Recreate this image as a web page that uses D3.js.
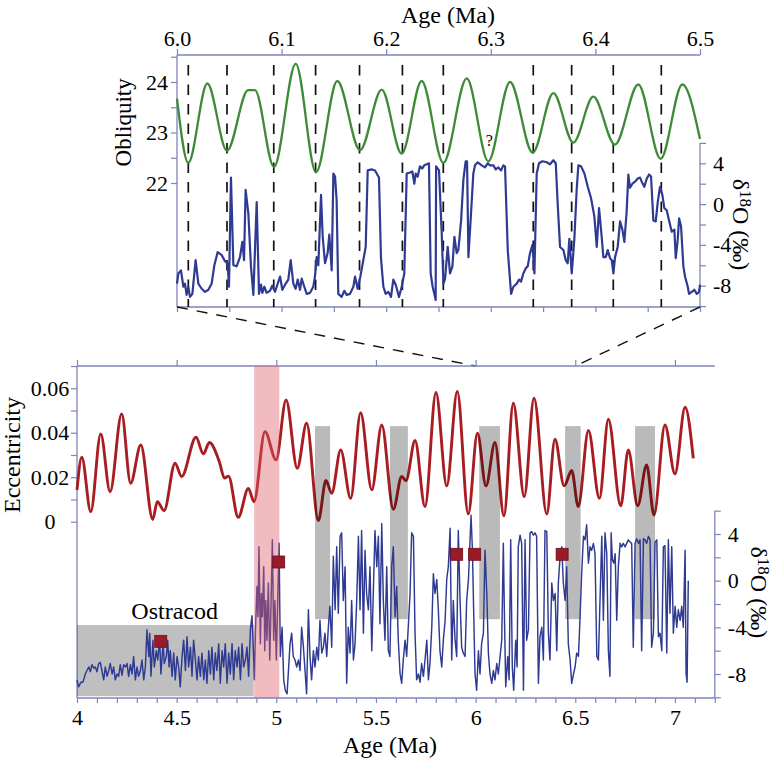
<!DOCTYPE html>
<html><head><meta charset="utf-8">
<script src="https://cdn.jsdelivr.net/npm/d3@7"></script>
<style>
body{margin:0;background:#fff;}
svg{display:block;font-family:"Liberation Serif","Times New Roman",serif;}
</style></head><body>
<svg id="c" width="783" height="760"></svg>
<script>
// ---------------- DATA ----------------
const topAgeTicks = [6.0, 6.1, 6.2, 6.3, 6.4, 6.5];
const oblTicks = [22, 22.5, 23, 23.5, 24, 24.5];
const oblLabels = [22, 23, 24];
const d18oTicks = [-10, -8, -6, -4, -2, 0, 2, 4, 6];
const d18oLabels = [4, 0, -4, -8];
const eccTicks = [0, 0.01, 0.02, 0.03, 0.04, 0.05, 0.06, 0.07];
const eccLabels = [0, 0.02, 0.04, 0.06];
const botAgeLabels = [4, 4.5, 5, 5.5, 6, 6.5, 7];

// obliquity (degrees), 6.0-6.5 Ma
const obliquity = [[6.000,23.67],[6.0108,22.40],[6.029,23.97],[6.0478,22.64],[6.068,23.84],[6.0745,23.84],[6.0927,22.32],[6.1135,24.36],[6.1329,22.21],[6.1532,24.02],[6.175,22.65],[6.1957,23.85],[6.2148,22.58],[6.2339,24.02],[6.2546,22.40],[6.277,24.07],[6.2976,22.43],[6.3184,24.00],[6.340,22.60],[6.3598,23.78],[6.3789,22.80],[6.398,23.71],[6.4187,22.76],[6.441,23.95],[6.4624,22.48],[6.4831,23.95],[6.500,22.87]];

// obliquity minima marked by dashed lines
const dashAges = [6.0108, 6.0478, 6.0925, 6.1325, 6.1745, 6.2155, 6.2546, 6.3406, 6.3773, 6.4171, 6.4630];

// δ18O detail 6.0-6.5 Ma
const d18oDetail = [[6.000,-7.8],[6.0013,-6.8],[6.0038,-6.5],[6.0061,-8.1],[6.0076,-7.8],[6.0092,-8.9],[6.0108,-8.1],[6.0124,-9.1],[6.0147,-8.8],[6.0178,-5.5],[6.0204,-7.8],[6.0236,-8.3],[6.0268,-8.6],[6.0300,-8.4],[6.0331,-7.8],[6.0357,-6.0],[6.0389,-4.7],[6.0427,-5.0],[6.0459,-5.6],[6.0484,-5.8],[6.0497,-8.1],[6.0516,2.6],[6.0539,-6.0],[6.0570,-6.1],[6.0602,-5.2],[6.0625,-3.7],[6.0641,-5.5],[6.0656,1.4],[6.0682,-0.9],[6.0707,-6.1],[6.0730,-8.9],[6.0762,0.2],[6.0784,-8.8],[6.0803,-7.9],[6.0816,-8.7],[6.0835,-8.1],[6.0857,-8.7],[6.0889,-8.5],[6.0911,-8.0],[6.0937,-8.6],[6.0953,-8.1],[6.0985,-7.1],[6.1007,-8.4],[6.1033,-7.9],[6.1064,-7.4],[6.1087,-5.5],[6.1112,-7.8],[6.1134,-8.3],[6.1154,-7.4],[6.1176,-8.4],[6.1192,-7.3],[6.1217,-8.1],[6.1240,-8.8],[6.1272,-8.7],[6.1303,-8.1],[6.1319,-7.1],[6.1335,-5.2],[6.1351,-6.0],[6.1377,0.9],[6.1393,-3.2],[6.1415,-5.8],[6.1440,-4.8],[6.1456,-3.0],[6.1479,-6.5],[6.1495,3.0],[6.1511,2.7],[6.1526,0.4],[6.1542,-8.8],[6.1574,-9.1],[6.1600,-8.5],[6.1622,-8.9],[6.1654,-8.8],[6.1686,-8.1],[6.1702,-7.1],[6.1727,-8.3],[6.1753,-7.1],[6.1781,-5.5],[6.1804,-4.2],[6.1823,3.3],[6.1861,3.4],[6.1893,3.3],[6.1909,3.0],[6.1931,2.6],[6.1950,-5.3],[6.1973,-8.1],[6.1995,-8.8],[6.2020,-8.6],[6.2046,-9.1],[6.2068,-7.4],[6.2091,-7.9],[6.2122,-9.1],[6.2148,-8.1],[6.2173,-6.8],[6.2196,3.0],[6.2228,3.1],[6.2250,3.2],[6.2269,2.0],[6.2282,3.0],[6.2301,2.7],[6.2323,3.7],[6.2345,3.5],[6.2364,3.8],[6.2387,3.9],[6.2409,4.0],[6.2425,-6.8],[6.2444,-8.1],[6.2460,-8.8],[6.2473,-9.4],[6.2477,3.7],[6.2505,3.3],[6.2531,-2.9],[6.2547,-7.8],[6.2563,-7.3],[6.2588,-4.2],[6.2610,-6.8],[6.2633,-6.1],[6.2652,-3.2],[6.2674,-4.8],[6.2690,-4.5],[6.2716,-1.6],[6.2738,2.4],[6.2760,4.2],[6.2773,4.2],[6.2786,-5.2],[6.2811,-0.9],[6.2833,3.0],[6.2849,3.8],[6.2875,4.1],[6.2913,3.8],[6.2945,3.6],[6.2970,4.0],[6.2993,3.8],[6.3025,3.8],[6.3047,3.4],[6.3072,3.6],[6.3098,3.3],[6.3120,3.8],[6.3136,3.7],[6.3162,-4.5],[6.3194,-8.8],[6.3216,-8.1],[6.3248,-7.8],[6.3270,-7.4],[6.3289,-7.6],[6.3311,-6.8],[6.3334,-6.3],[6.3353,-6.1],[6.3375,-4.8],[6.3398,-4.0],[6.3417,-6.8],[6.3439,3.0],[6.3461,4.0],[6.3493,4.2],[6.3535,4.1],[6.3566,3.9],[6.3598,4.3],[6.3621,4.0],[6.3640,-0.1],[6.3662,-4.2],[6.3694,-4.5],[6.3716,-5.5],[6.3735,-5.8],[6.3751,-3.4],[6.3774,-6.8],[6.3799,-3.4],[6.3821,1.4],[6.3837,3.8],[6.3863,3.7],[6.3895,3.0],[6.3927,1.7],[6.3958,0.6],[6.3990,-1.2],[6.4013,-4.2],[6.4035,-0.4],[6.4060,-3.2],[6.4076,-5.2],[6.4099,-5.2],[6.4118,-4.5],[6.4140,-5.3],[6.4156,-5.5],[6.4172,-6.8],[6.4188,-5.2],[6.4213,-4.2],[6.4236,-1.7],[6.4258,-2.5],[6.4277,-3.7],[6.4299,-0.7],[6.4315,2.9],[6.4331,1.6],[6.4354,2.0],[6.4379,2.2],[6.4405,2.5],[6.4427,2.6],[6.4443,2.2],[6.4468,1.7],[6.4491,2.5],[6.4513,2.9],[6.4532,2.7],[6.4554,-1.6],[6.4577,-1.7],[6.4596,0.2],[6.4618,1.7],[6.4640,0.9],[6.4659,-0.4],[6.4682,-0.6],[6.4704,-1.6],[6.4730,-2.7],[6.4755,-2.5],[6.4768,-5.3],[6.4787,-3.5],[6.4800,-1.4],[6.4819,-2.2],[6.4841,-6.1],[6.4857,-7.1],[6.4883,-8.1],[6.4895,-8.8],[6.4921,-8.6],[6.4946,-8.4],[6.4969,-8.8],[6.4991,-8.6],[6.5000,-7.9]];

// eccentricity 4.0-7.1 Ma
const eccentricity = [[4.000,0.0143],[4.024,0.029],[4.069,0.0045],[4.119,0.0395],[4.166,0.0135],[4.224,0.0485],[4.269,0.0173],[4.32,0.0345],[4.38,0.001],[4.403,0.009],[4.437,0.005],[4.492,0.0263],[4.525,0.0203],[4.597,0.038],[4.634,0.0305],[4.664,0.0356],[4.714,0.027],[4.74,0.0196],[4.76,0.0205],[4.809,0.002],[4.86,0.015],[4.888,0.009],[4.943,0.0405],[4.999,0.0278],[5.049,0.0548],[5.105,0.024],[5.152,0.0443],[5.211,0.0005],[5.249,0.0185],[5.278,0.0128],[5.323,0.0323],[5.373,0.0105],[5.423,0.049],[5.479,0.0143],[5.529,0.0435],[5.587,0.0056],[5.629,0.0203],[5.651,0.0185],[5.696,0.0365],[5.746,0.0068],[5.801,0.0581],[5.855,0.0161],[5.908,0.0586],[5.963,0.0035],[6.009,0.0398],[6.052,0.0161],[6.097,0.0356],[6.142,0.0026],[6.189,0.0533],[6.244,0.0113],[6.293,0.0556],[6.357,0.0035],[6.398,0.0371],[6.444,0.0161],[6.482,0.023],[6.515,0.0068],[6.566,0.041],[6.621,0.0105],[6.666,0.0461],[6.728,0.0071],[6.766,0.0323],[6.813,0.0071],[6.858,0.0255],[6.895,0.003],[6.95,0.0435],[7.0,0.0215],[7.051,0.0515],[7.092,0.0285]];

// δ18O record 4.0-7.07 Ma
const d18oRecord = [[4.000,-8.5],[4.008,-9.1],[4.020,-8.7],[4.030,-8.7],[4.042,-8.0],[4.050,-7.7],[4.059,-7.4],[4.067,-7.8],[4.075,-7.2],[4.084,-7.5],[4.092,-7.4],[4.100,-7.8],[4.109,-7.1],[4.117,-7.0],[4.125,-7.7],[4.134,-8.5],[4.142,-7.4],[4.151,-8.2],[4.159,-7.7],[4.167,-7.1],[4.176,-8.0],[4.184,-7.4],[4.192,-8.5],[4.201,-8.0],[4.209,-8.2],[4.217,-7.2],[4.226,-8.1],[4.234,-7.2],[4.243,-7.4],[4.251,-7.1],[4.259,-8.2],[4.268,-7.2],[4.276,-8.0],[4.284,-6.5],[4.293,-8.5],[4.301,-7.4],[4.309,-8.2],[4.318,-7.7],[4.326,-6.8],[4.335,-8.5],[4.343,-7.4],[4.351,-4.2],[4.360,-6.5],[4.365,-4.5],[4.371,-8.2],[4.381,-5.1],[4.388,-7.4],[4.398,-6.0],[4.405,-6.8],[4.415,-5.1],[4.421,-8.0],[4.432,-5.4],[4.438,-7.1],[4.448,-6.5],[4.455,-5.1],[4.462,-7.4],[4.468,-6.0],[4.477,-8.2],[4.485,-6.2],[4.493,-8.5],[4.502,-6.5],[4.510,-7.4],[4.518,-9.1],[4.527,-6.5],[4.535,-5.1],[4.544,-7.7],[4.552,-4.8],[4.560,-7.4],[4.569,-5.7],[4.577,-8.2],[4.585,-5.1],[4.594,-6.8],[4.602,-8.5],[4.610,-6.5],[4.619,-8.2],[4.627,-6.2],[4.636,-8.5],[4.644,-6.8],[4.652,-8.8],[4.661,-6.0],[4.669,-8.0],[4.677,-5.7],[4.686,-8.5],[4.694,-6.2],[4.702,-7.7],[4.711,-5.4],[4.719,-8.8],[4.728,-6.0],[4.736,-7.4],[4.744,-5.4],[4.753,-8.8],[4.761,-6.2],[4.769,-8.0],[4.778,-5.4],[4.786,-8.5],[4.794,-6.0],[4.803,-7.4],[4.811,-5.7],[4.820,-8.5],[4.828,-5.4],[4.836,-7.4],[4.845,-6.8],[4.853,-5.7],[4.861,-8.2],[4.870,-4.2],[4.878,-3.0],[4.883,-5.1],[4.890,-8.5],[4.895,-4.5],[4.903,-0.5],[4.908,-3.1],[4.913,2.9],[4.920,-5.4],[4.925,-1.1],[4.930,-3.1],[4.937,1.2],[4.942,-6.0],[4.947,-1.7],[4.953,-5.1],[4.960,-0.2],[4.967,-6.8],[4.973,-2.5],[4.980,3.5],[4.987,-5.1],[4.993,-1.7],[5.000,-6.8],[5.007,-1.9],[5.014,3.2],[5.020,-6.5],[5.029,-4.0],[5.037,-8.5],[5.045,-9.4],[5.054,-9.7],[5.069,-5.4],[5.077,-4.5],[5.085,-6.5],[5.094,-6.8],[5.102,-7.4],[5.111,-6.8],[5.119,-7.7],[5.127,-4.0],[5.136,-5.7],[5.144,-7.7],[5.152,-9.7],[5.161,-2.5],[5.169,-6.5],[5.177,-8.5],[5.186,-6.0],[5.194,-7.4],[5.203,-5.7],[5.211,-6.8],[5.219,-3.4],[5.228,-6.2],[5.236,-5.7],[5.244,-4.5],[5.253,-6.5],[5.261,-4.0],[5.269,-2.2],[5.278,-5.7],[5.286,2.1],[5.295,-2.5],[5.303,2.9],[5.311,-2.8],[5.320,3.8],[5.328,4.1],[5.336,-1.7],[5.345,1.2],[5.353,-8.8],[5.361,-4.0],[5.370,-6.2],[5.378,-1.7],[5.387,-6.8],[5.395,-5.4],[5.403,-1.9],[5.412,3.8],[5.420,-2.5],[5.428,4.3],[5.437,-4.5],[5.445,2.6],[5.453,-1.1],[5.462,-2.5],[5.470,1.2],[5.479,-6.0],[5.487,-0.8],[5.495,4.3],[5.504,1.2],[5.512,3.8],[5.520,-3.7],[5.529,4.9],[5.537,-1.7],[5.545,-5.1],[5.554,1.2],[5.562,-6.0],[5.570,-6.5],[5.579,1.2],[5.587,2.9],[5.596,-3.1],[5.604,-0.5],[5.612,-5.1],[5.621,-8.0],[5.629,-8.8],[5.637,-6.8],[5.646,-5.1],[5.654,-6.5],[5.662,-4.0],[5.671,-1.1],[5.679,4.1],[5.688,3.8],[5.696,-4.5],[5.704,-8.5],[5.713,-8.0],[5.721,-8.7],[5.729,-7.1],[5.738,-8.2],[5.746,-6.8],[5.755,-5.1],[5.763,-8.5],[5.771,-7.1],[5.780,-4.0],[5.788,0.6],[5.796,-1.1],[5.805,0.1],[5.813,-2.5],[5.821,-6.0],[5.830,-7.4],[5.838,-5.1],[5.847,-3.4],[5.855,0.1],[5.863,1.2],[5.872,4.5],[5.880,-6.8],[5.888,-1.7],[5.897,-5.1],[5.905,-6.5],[5.913,4.3],[5.922,-1.7],[5.930,-5.7],[5.938,-6.2],[5.947,-6.5],[5.955,-1.7],[5.964,0.1],[5.972,3.5],[5.977,5.6],[5.984,2.6],[5.990,-2.5],[5.997,-8.0],[6.005,-9.4],[6.014,-6.0],[6.022,-8.0],[6.030,-5.4],[6.039,-4.5],[6.047,2.6],[6.056,-1.1],[6.064,-6.2],[6.072,-8.0],[6.081,-8.8],[6.089,-7.7],[6.097,-8.5],[6.106,-7.1],[6.114,-8.0],[6.131,-5.1],[6.139,3.2],[6.144,-2.5],[6.151,-9.1],[6.161,-6.5],[6.168,-8.5],[6.176,3.5],[6.184,-7.4],[6.191,-9.4],[6.201,-5.1],[6.208,-7.4],[6.214,2.9],[6.223,3.9],[6.231,3.2],[6.240,-9.4],[6.248,3.5],[6.256,-5.1],[6.265,-4.2],[6.273,4.1],[6.281,4.2],[6.290,3.9],[6.298,4.1],[6.306,3.8],[6.315,-8.8],[6.323,-4.8],[6.332,-4.0],[6.340,-6.8],[6.348,4.3],[6.357,4.2],[6.365,-4.5],[6.373,-6.8],[6.382,-0.2],[6.390,-1.7],[6.399,-1.1],[6.407,-6.0],[6.415,-0.2],[6.424,2.1],[6.432,2.9],[6.440,-0.2],[6.449,-1.7],[6.457,1.2],[6.465,-5.4],[6.474,-6.8],[6.482,-8.8],[6.491,-8.0],[6.499,-7.4],[6.507,-6.2],[6.516,-6.5],[6.524,-3.1],[6.532,0.6],[6.541,3.8],[6.549,3.5],[6.557,4.8],[6.566,1.5],[6.574,2.9],[6.582,2.6],[6.591,3.2],[6.599,2.3],[6.608,-6.5],[6.616,-6.8],[6.624,-1.7],[6.633,3.8],[6.641,-3.4],[6.649,4.1],[6.658,2.3],[6.666,-6.0],[6.674,-8.2],[6.680,4.1],[6.686,1.8],[6.693,1.5],[6.700,2.3],[6.708,-3.4],[6.716,1.2],[6.725,3.2],[6.733,2.9],[6.741,3.2],[6.750,2.9],[6.758,3.2],[6.766,3.5],[6.775,3.3],[6.783,3.2],[6.791,-5.7],[6.800,3.2],[6.808,3.6],[6.817,3.2],[6.825,3.5],[6.833,-6.0],[6.842,3.6],[6.850,3.5],[6.858,3.2],[6.867,3.8],[6.875,3.5],[6.883,-5.7],[6.892,-4.5],[6.900,3.3],[6.909,3.5],[6.917,-4.8],[6.925,-4.5],[6.934,-6.0],[6.942,2.9],[6.950,3.0],[6.959,-6.2],[6.967,3.5],[6.975,-2.8],[6.984,2.9],[6.992,-4.5],[7.001,-2.2],[7.009,-4.0],[7.017,-2.5],[7.026,-3.4],[7.034,-2.2],[7.042,-4.0],[7.051,2.6],[7.056,-8.0],[7.061,-8.7],[7.067,0.0]];

// shaded intervals
const grayStart = [5.194, 5.57, 6.018, 6.449, 6.80];
const grayEnd   = [5.27, 5.66, 6.122, 6.527, 6.90];
const grayTopEcc = 0.043, grayBottomD18o = -3.3;
const pinkStart = 4.889, pinkEnd = 5.015;
const ostracodStart = 4.0, ostracodEnd = 4.887, ostracodTop = -3.8, ostracodBottom = -9.9;

// red squares
const squares = [[4.42,-5.2],[5.012,1.6],[5.905,2.26],[5.995,2.26],[6.434,2.26]];

// ---------------- DRAW ----------------
const svg = d3.select('#c');
const AX = '#7e84ba';
const BLUE = '#2f3a93', GREEN = '#3e8a37', RED = '#a81d22';
const TICKFS = 22, TITLEFS = 24;

const xTop = d3.scaleLinear().domain([6.0, 6.5]).range([177, 700]);
const yObl = d3.scaleLinear().domain([22, 24]).range([183, 82]);
const yDT  = d3.scaleLinear().domain([-8, 4]).range([285.7, 163.3]);
const xBot = d3.scaleLinear().domain([4, 7.2]).range([77, 714.8]);
const yEcc = d3.scaleLinear().domain([0, 0.06]).range([521.7, 388.3]);
const yDB  = d3.scaleLinear().domain([-8, 4]).range([674, 534]);

function styleAxis(g, hideDomain = true) {
  if (hideDomain) g.select('.domain').remove();
  g.selectAll('.tick line').attr('stroke', AX).attr('stroke-width', 1.2);
  g.selectAll('.tick text').attr('fill', '#000').style('font-size', TICKFS + 'px')
    .style('font-family', '"Liberation Serif","Times New Roman",serif');
}
function frameLine(x1, y1, x2, y2) {
  svg.append('line').attr('x1', x1).attr('y1', y1).attr('x2', x2).attr('y2', y2)
    .attr('stroke', AX).attr('stroke-width', 1.3);
}

// ===== TOP PANEL =====
const tY0 = 55, tY1 = 307;
frameLine(xTop(6.0), tY0, xTop(6.5), tY0);
frameLine(xTop(6.0), tY0, xTop(6.0), tY1);
frameLine(xTop(6.0), tY1, xTop(6.5), tY1);
frameLine(xTop(6.5), yDT(6), xTop(6.5), tY1);

svg.append('g').attr('transform', `translate(0,${tY0})`)
  .call(d3.axisTop(xTop).tickValues(topAgeTicks).tickFormat(d3.format('.1f')).tickSize(6).tickPadding(3))
  .call(styleAxis);
svg.append('g').attr('transform', `translate(0,${tY1})`)
  .call(d3.axisBottom(xTop).tickValues(d3.range(0, 11).map(i => 6 + i * 0.05)).tickFormat('').tickSize(5))
  .call(styleAxis);
svg.append('g').attr('transform', `translate(${xTop(6.0)},0)`)
  .call(d3.axisLeft(yObl).tickValues(oblTicks).tickFormat(d => oblLabels.includes(d) ? d : '').tickSize(6).tickPadding(3))
  .call(styleAxis);
svg.append('g').attr('transform', `translate(${xTop(6.5)},0)`)
  .call(d3.axisRight(yDT).tickValues(d18oTicks).tickFormat(d => d18oLabels.includes(d) ? String(d) : '').tickSize(6).tickPadding(7))
  .call(styleAxis);

// dashed obliquity-minimum lines
svg.append('g').selectAll('line').data(dashAges).join('line')
  .attr('x1', d => xTop(d)).attr('x2', d => xTop(d))
  .attr('y1', 65).attr('y2', tY1)
  .attr('stroke', '#111').attr('stroke-width', 1.7).attr('stroke-dasharray', '10.5,9');

// obliquity curve
svg.append('path').datum(obliquity)
  .attr('d', d3.line().x(d => xTop(d[0])).y(d => yObl(d[1])).curve(d3.curveMonotoneX))
  .attr('fill', 'none').attr('stroke', GREEN).attr('stroke-width', 2.3);

// δ18O detail
svg.append('path').datum(d18oDetail)
  .attr('d', d3.line().x(d => xTop(d[0])).y(d => yDT(d[1])))
  .attr('fill', 'none').attr('stroke', BLUE).attr('stroke-width', 2.2).attr('stroke-linejoin', 'round');

svg.append('text').attr('x', xTop(6.2985)).attr('y', 146).attr('text-anchor', 'middle')
  .attr('fill', '#000').style('font-size', '16px').text('?');

// titles
svg.append('text').attr('x', 448).attr('y', 23).attr('text-anchor', 'middle')
  .style('font-size', TITLEFS + 'px').text('Age (Ma)');
svg.append('text').attr('transform', `translate(131,${yObl(23.2)}) rotate(-90)`).attr('text-anchor', 'middle')
  .style('font-size', '23px').text('Obliquity');
function d18oTitle(x, y) {
  const t = svg.append('text').attr('transform', `translate(${x},${y}) rotate(90)`).attr('text-anchor', 'middle')
    .style('font-size', TITLEFS + 'px');
  t.append('tspan').text('δ');
  t.append('tspan').attr('dy', -7).style('font-size', '17px').text('18');
  t.append('tspan').attr('dy', 7).text('O (‰)');
}
d18oTitle(733, yDT(-2));

// connectors
const conn = [[6.0, 6.0], [6.5, 6.5]];
svg.append('g').selectAll('line').data(conn).join('line')
  .attr('x1', d => xTop(d[0])).attr('y1', tY1)
  .attr('x2', d => xBot(d[1])).attr('y2', 366)
  .attr('stroke', '#111').attr('stroke-width', 1.4).attr('stroke-dasharray', '11,9');

// ===== BOTTOM PANEL =====
const bY0 = 366, bY1 = 698;
frameLine(xBot(4), bY0, xBot(7.2), bY0);
frameLine(xBot(4), bY0, xBot(4), bY1);
frameLine(xBot(4), bY1, xBot(7.2), bY1);
frameLine(xBot(7.2), yDB(6), xBot(7.2), bY1);

svg.append('g').attr('transform', `translate(0,${bY0})`)
  .call(d3.axisTop(xBot).tickValues(botAgeLabels).tickFormat('').tickSize(6))
  .call(styleAxis);
svg.append('g').attr('transform', `translate(0,${bY1})`)
  .call(d3.axisBottom(xBot).tickValues(d3.range(0, 33).map(i => +(4 + i * 0.1).toFixed(1)))
    .tickFormat(d => botAgeLabels.includes(d) ? String(d) : '').tickSize(5).tickPadding(6))
  .call(styleAxis);
svg.append('g').attr('transform', `translate(${xBot(4)},0)`)
  .call(d3.axisLeft(yEcc).tickValues(eccTicks).tickFormat(d => eccLabels.includes(d) ? (d === 0 ? '0' : d.toFixed(2)) : '').tickSize(6))
  .call(styleAxis)
  .call(g => g.selectAll('.tick text').attr('text-anchor', 'middle').attr('x', -27));
svg.append('g').attr('transform', `translate(${xBot(7.2)},0)`)
  .call(d3.axisRight(yDB).tickValues(d18oTicks).tickFormat(d => d18oLabels.includes(d) ? String(d) : '').tickSize(6).tickPadding(7))
  .call(styleAxis);

// eccentricity
svg.append('path').datum(eccentricity)
  .attr('d', d3.line().x(d => xBot(d[0])).y(d => yEcc(d[1])).curve(d3.curveMonotoneX))
  .attr('fill', 'none').attr('stroke', RED).attr('stroke-width', 2.9);

// gray bars
svg.append('g').selectAll('rect').data(grayStart).join('rect')
  .attr('x', (d) => xBot(d)).attr('width', (d, i) => xBot(grayEnd[i]) - xBot(d))
  .attr('y', yEcc(grayTopEcc)).attr('height', yDB(grayBottomD18o) - yEcc(grayTopEcc))
  .attr('fill', '#000').attr('fill-opacity', 0.27);
// ostracod box
svg.append('rect').attr('x', xBot(ostracodStart)).attr('width', xBot(ostracodEnd) - xBot(ostracodStart))
  .attr('y', yDB(ostracodTop)).attr('height', yDB(ostracodBottom) - yDB(ostracodTop))
  .attr('fill', '#000').attr('fill-opacity', 0.25);

// δ18O record
svg.append('path').datum(d18oRecord)
  .attr('d', d3.line().x(d => xBot(d[0])).y(d => yDB(d[1])))
  .attr('fill', 'none').attr('stroke', BLUE).attr('stroke-width', 1.45).attr('stroke-linejoin', 'round');

// pink interval
svg.append('rect').attr('x', xBot(pinkStart)).attr('width', xBot(pinkEnd) - xBot(pinkStart))
  .attr('y', bY0).attr('height', bY1 - bY0)
  .attr('fill', 'rgb(222,92,104)').attr('fill-opacity', 0.42);

// squares
svg.append('g').selectAll('rect').data(squares).join('rect')
  .attr('x', d => xBot(d[0]) - 6).attr('y', d => yDB(d[1]) - 6)
  .attr('width', 12).attr('height', 12)
  .attr('fill', '#9b1a27').attr('stroke', '#6d0f19').attr('stroke-width', 0.8);

svg.append('text').attr('x', xBot(4.49)).attr('y', 619).attr('text-anchor', 'middle')
  .style('font-size', TITLEFS + 'px').text('Ostracod');

svg.append('text').attr('x', 390).attr('y', 753).attr('text-anchor', 'middle')
  .style('font-size', TITLEFS + 'px').text('Age (Ma)');
svg.append('text').attr('transform', `translate(20,${yEcc(0.03)}) rotate(-90)`).attr('text-anchor', 'middle')
  .style('font-size', TITLEFS + 'px').text('Eccentricity');
d18oTitle(751, yDB(-1));
</script>
</body></html>
